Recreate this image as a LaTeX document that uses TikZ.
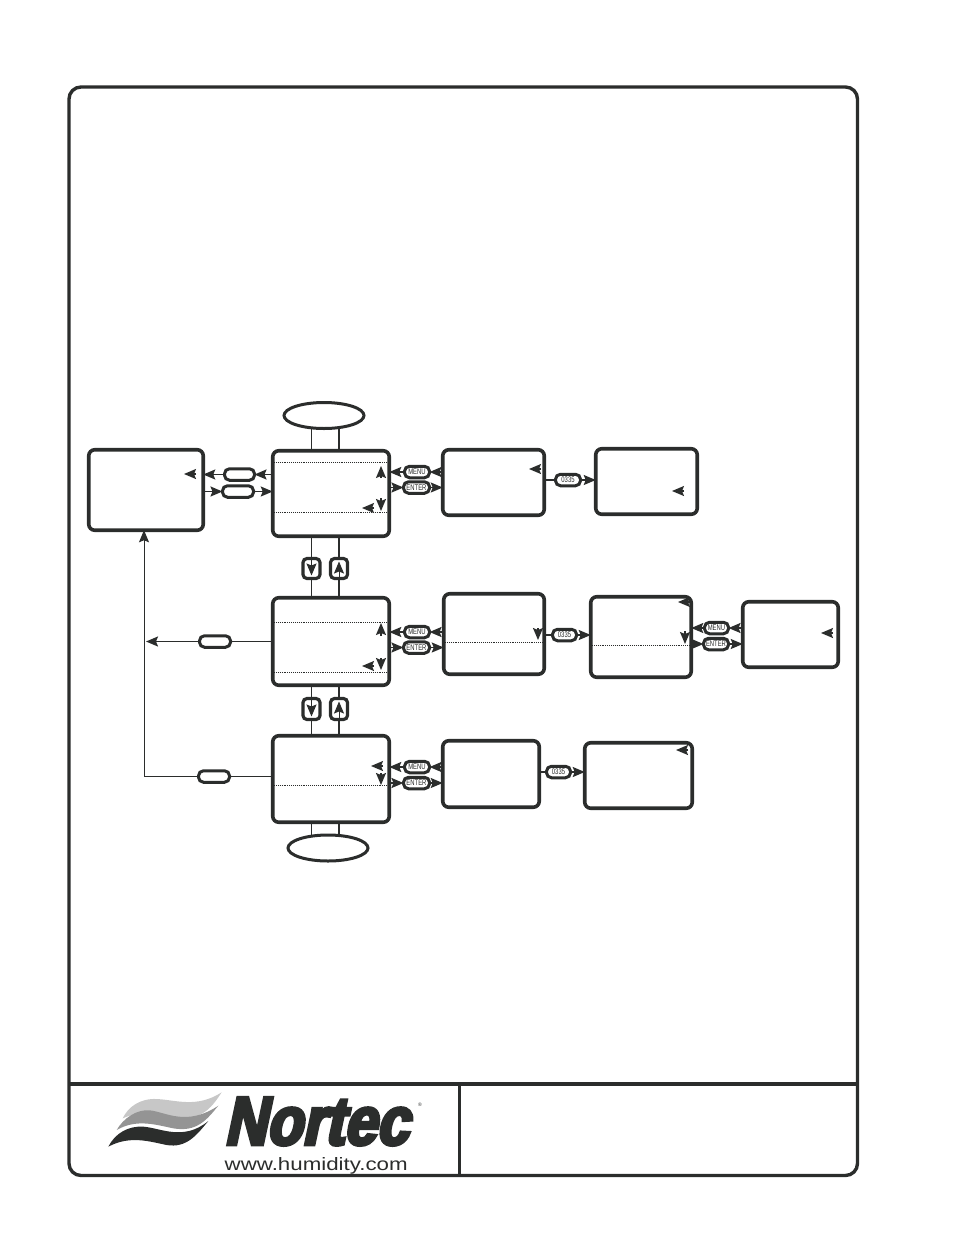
\documentclass[tikz,border=0pt]{standalone}
\usepackage{fontspec}
\usepackage{graphicx}
\usetikzlibrary{arrows.meta,shapes.geometric,backgrounds}
\setmainfont{Liberation Sans}
\newfontfamily\keyfont[FakeStretch=0.72]{Liberation Sans}
\newfontfamily\brandfont[FakeSlant=0.2,FakeBold=5,FakeStretch=0.8]{Liberation Sans Bold}
\definecolor{ink}{HTML}{2B2D2C}
\tikzset{
  x=1pt,y=-1pt,
  flowtip/.tip={Stealth[length=12pt,width=10pt,inset=2pt]},
  screen/.style={draw=ink,line width=3.6pt,rounded corners=6pt,fill=white,outer sep=0pt,inner sep=0pt,minimum width=#1},
  pill/.style={draw=ink,line width=3pt,rounded corners=5pt,fill=white,outer sep=0pt,inner sep=0pt,minimum width=#1,minimum height=11.5pt},
  keypill/.style={pill=#1,text=ink,font=\keyfont\fontsize{8.2}{9}\selectfont},
  stepkey/.style={draw=ink,line width=3.2pt,rounded corners=4pt,fill=white,outer sep=0pt,inner sep=0pt,minimum width=17pt,minimum height=20pt},
  oval/.style={draw=ink,line width=3pt,ellipse,fill=white,outer sep=0pt,inner sep=0pt,minimum width=80pt,minimum height=26pt},
  link/.style={draw=ink,line width=1.7pt},
  flow/.style={link,-flowtip},
  cursor/.style={draw=ink,line width=1.4pt,-flowtip},
  thinlink/.style={draw=ink,line width=1pt},
  rowline/.style={draw=ink,line width=.9pt,densely dotted},
  frameline/.style={draw=ink,line width=3.4pt},
}
\begin{document}
\begin{tikzpicture}
\useasboundingbox (0,0) rectangle (954,1235);

% Outer sheet frame and title block
\draw[frameline,rounded corners=12pt] (69,87) rectangle (857.5,1175.5);
\coordinate (tbl) at (69,1084);
\coordinate (tbr) at (857.5,1084);
\coordinate (tbm) at (459.5,1084);
\coordinate (tbb) at (459.5,1175.5);
\draw[frameline] (tbl) -- (tbr);
\draw[frameline] (tbm) -- (tbb);

% Menu screens
\node[screen=114.5pt,minimum height=80.5pt] (A) at (146,490) {};
\node[screen=116.5pt,minimum height=85.5pt] (B) at (331,493.5) {};
\node[screen=101.5pt,minimum height=65.5pt] (C) at (493.5,482.5) {};
\node[screen=101.5pt,minimum height=65.5pt] (D) at (646.5,481.5) {};
\node[screen=116.5pt,minimum height=87.5pt] (E) at (331,641.5) {};
\node[screen=100.5pt,minimum height=80.5pt] (F) at (494,634) {};
\node[screen=100.5pt,minimum height=80.5pt] (G) at (641,637) {};
\node[screen=95.5pt,minimum height=65.5pt] (H) at (790.5,634.5) {};
\node[screen=116.5pt,minimum height=86.5pt] (I) at (331,779) {};
\node[screen=96.5pt,minimum height=66.5pt] (J) at (491,774) {};
\node[screen=107.5pt,minimum height=65.5pt] (K) at (638.5,775.5) {};

% Loop ends
\node[oval] (topoval) at (324,415.5) {};
\node[oval] (botoval) at (328,848) {};

% Unlabelled keys
\node[pill=30pt] (pa) at (239.5,474.5) {};
\node[pill=31pt] (pb) at (238,491.5) {};
\node[pill=31pt] (pc) at (215,641.5) {};
\node[pill=31pt] (pd) at (214,776.5) {};

% Up and down keys
\node[stepkey] (dn1) at (311.5,568.5) {};
\node[stepkey] (up1) at (339,568.5) {};
\node[stepkey,minimum height=21pt] (dn2) at (311.5,709) {};
\node[stepkey,minimum height=21pt] (up2) at (339,709) {};

% Labelled keys
\node[keypill=25pt] (m1) at (417,472) {MENU};
\node[keypill=26pt] (e1) at (416.5,487.5) {ENTER};
\node[keypill=25pt] (m2) at (417,632) {MENU};
\node[keypill=26pt] (e2) at (416.5,647.5) {ENTER};
\node[keypill=25pt] (m3) at (417,767) {MENU};
\node[keypill=26pt] (e3) at (416.5,783) {ENTER};
\node[keypill=24pt] (m4) at (716.5,628) {MENU};
\node[keypill=25pt] (e4) at (716,644) {ENTER};
\node[keypill=25pt] (c1) at (568,480) {0335};
\node[keypill=24pt] (c2) at (564.5,635) {0335};
\node[keypill=24pt] (c3) at (558.5,772) {0335};

% Connectors that run behind the ovals
\begin{pgfonlayer}{background}
  \draw[link] (dn1 |- B.north) -- (dn1 |- topoval.center);
  \draw[link] (up1 |- B.north) -- (up1 |- topoval.center);
  \draw[link] (dn2 |- I.south) -- (dn2 |- botoval.center);
  \draw[link] (up2 |- I.south) -- (up2 |- botoval.center);
\end{pgfonlayer}

% Main screen to side screen
\draw[flow] (B.west |- pa) -- (pa.east);
\draw[flow] (pa.west) -- (A.east |- pa);
\draw[flow] (A.east |- pb) -- (pb.west);
\draw[flow] (pb.east) -- (B.west |- pb);

% Vertical stepping between main screens
\draw[link] (dn1 |- B.south) -- (dn1.north);
\draw[link] (dn1.south) -- (dn1 |- E.north);
\draw[link] (up1 |- B.south) -- (up1.north);
\draw[link] (up1.south) -- (up1 |- E.north);
\draw[link] (dn2 |- E.south) -- (dn2.north);
\draw[link] (dn2.south) -- (dn2 |- I.north);
\draw[link] (up2 |- E.south) -- (up2.north);
\draw[link] (up2.south) -- (up2 |- I.north);
\draw[flow,line width=1pt] (dn1.north) -- ([yshift=3pt]dn1.south);
\draw[flow,line width=1pt] (up1.south) -- ([yshift=-3pt]up1.north);
\draw[flow,line width=1pt] (dn2.north) -- ([yshift=3pt]dn2.south);
\draw[flow,line width=1pt] (up2.south) -- ([yshift=-3pt]up2.north);

% Return paths to the side screen
\coordinate (junction) at (146,641.5);
\coordinate (corner) at (144,776.5);
\draw[link] (E.west |- pc) -- (pc.east);
\draw[flow] (pc.west) -- (junction);
\draw[thinlink] (I.west |- pd) -- (pd.east);
\draw[thinlink,-flowtip] (pd.west) -- (corner) -- (corner |- A.south);

% MENU and ENTER pairs
\draw[flow] (C.west |- m1) -- (m1.east);
\draw[flow] (m1.west) -- (B.east |- m1);
\draw[flow] (B.east |- e1) -- (e1.west);
\draw[flow] (e1.east) -- (C.west |- e1);
\draw[flow] (F.west |- m2) -- (m2.east);
\draw[flow] (m2.west) -- (E.east |- m2);
\draw[flow] (E.east |- e2) -- (e2.west);
\draw[flow] (e2.east) -- (F.west |- e2);
\draw[flow] (J.west |- m3) -- (m3.east);
\draw[flow] (m3.west) -- (I.east |- m3);
\draw[flow] (I.east |- e3) -- (e3.west);
\draw[flow] (e3.east) -- (J.west |- e3);
\draw[flow] (H.west |- m4) -- (m4.east);
\draw[flow] (m4.west) -- (G.east |- m4);
\draw[flow] (G.east |- e4) -- (e4.west);
\draw[flow] (e4.east) -- (H.west |- e4);

% Password keys
\draw[link] (C.east |- c1) -- (c1.west);
\draw[flow] (c1.east) -- (D.west |- c1);
\draw[link] (F.east |- c2) -- (c2.west);
\draw[flow] (c2.east) -- (G.west |- c2);
\draw[link] (J.east |- c3) -- (c3.west);
\draw[flow] (c3.east) -- (K.west |- c3);

% Dotted row separators in the screens
\draw[rowline] (274,462) -- (388,462);
\draw[rowline] (274,512) -- (388,512);
\draw[rowline] (274,622) -- (388,622);
\draw[rowline] (274,672) -- (388,672);
\draw[rowline] (274,785) -- (388,785);
\draw[rowline] (445,642) -- (543,642);
\draw[rowline] (592,645) -- (690,645);

% Selection cursors inside the screens
\draw[cursor] (196,474) -- (184,474);
\draw[cursor] (541,469) -- (529,469);
\draw[cursor] (684,491) -- (672,491);
\draw[cursor] (833,633) -- (821,633);
\draw[cursor] (688,750) -- (676,750);
\draw[cursor] (690,602) -- (678,602);
\draw[cursor] (381,478) -- (381,466);
\draw[cursor] (381,498) -- (381,511);
\draw[cursor] (374,508) -- (362,508);
\draw[cursor] (381,636) -- (381,623);
\draw[cursor] (381,658) -- (381,670);
\draw[cursor] (374,666) -- (362,666);
\draw[cursor] (383,766) -- (371,766);
\draw[cursor] (381,773) -- (381,785);
\draw[cursor] (538,628) -- (538,640);
\draw[cursor] (685,631) -- (685,644);

% Logo waves
\begin{scope}[shift={(100,1085)},scale=1/3]
  \fill[black!22] (68,100) .. controls (85,65) and (120,40) .. (170,42)
    .. controls (230,45) and (290,70) .. (365,22)
    .. controls (340,60) and (310,105) .. (240,98)
    .. controls (190,92) and (150,65) .. (68,100) -- cycle;
  \fill[black!42] (50,135) .. controls (70,100) and (110,72) .. (150,76)
    .. controls (200,82) and (260,125) .. (355,62)
    .. controls (320,105) and (290,142) .. (220,130)
    .. controls (170,120) and (110,100) .. (50,135) -- cycle;
  \fill[ink] (25,185) .. controls (45,145) and (85,122) .. (130,125)
    .. controls (180,128) and (250,170) .. (325,108)
    .. controls (290,150) and (260,190) .. (200,180)
    .. controls (150,170) and (90,150) .. (25,185) -- cycle;
\end{scope}

% Logo lettering
\node[anchor=south west,inner sep=0pt,text=ink] (brand) at (224,1145.5)
  {\resizebox{184pt}{47pt}{\brandfont Nortec}};
\node[inner sep=0pt,text=ink,font=\fontsize{5}{6}\selectfont] (reg) at (420,1105) {®};
\node[anchor=base west,inner sep=0pt,text=ink] (url) at (224.5,1170)
  {\resizebox{183pt}{13pt}{www.humidity.com}};
\end{tikzpicture}
\end{document}
